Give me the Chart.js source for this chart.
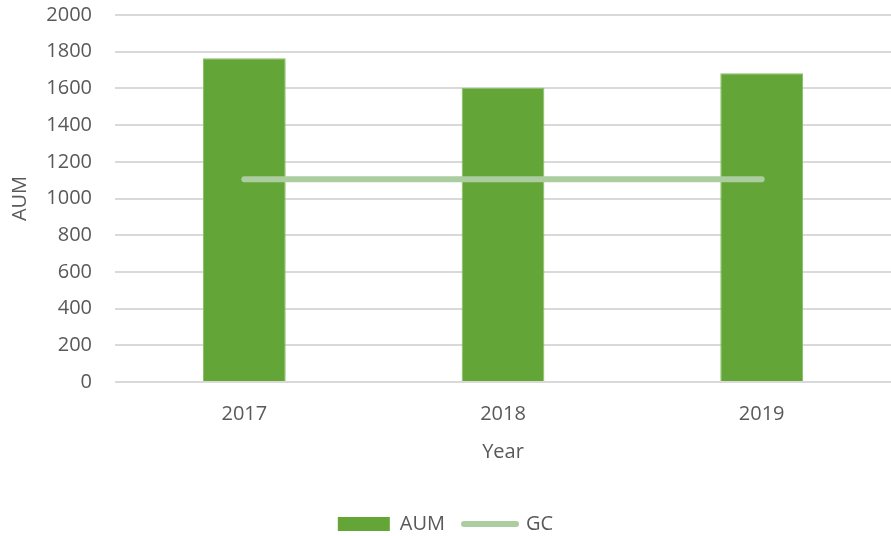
<!DOCTYPE html>
<html>
<head>
<meta charset="utf-8">
<script src="https://cdn.jsdelivr.net/npm/chart.js@4"></script>
<style>
  html, body { margin: 0; padding: 0; background: #fff; }
  #wrap { width: 891px; height: 536px; }
</style>
</head>
<body>
<div id="wrap"><canvas id="chart" width="891" height="536"></canvas></div>
<script>
const years = ['2017', '2018', '2019']
const aum = [1764, 1603, 1682]
const gc = [1105, 1105, 1105]
const yTicks = [0, 2000, 200]   // min, max, step

const textColor = '#595959'
const font = {family: "'Open Sans', sans-serif", size: 20}

const ctx = document.getElementById('chart').getContext('2d')
window.aumChart = new Chart(ctx, {
    type: 'bar',
    data: {
        labels: years,
        datasets: [{
            type: 'bar',
            label: 'AUM',
            data: aum,
            backgroundColor: '#63a537',
            borderColor: '#86c064',
            borderWidth: 1,
            categoryPercentage: 1,
            barPercentage: 0.32,
            order: 1,
        }, {
            type: 'line',
            label: 'GC',
            data: gc,
            borderColor: '#abcd9f',
            backgroundColor: '#abcd9f',
            borderWidth: 6,
            borderCapStyle: 'round',
            pointRadius: 0,
            fill: false,
            order: 0,
        }]
    },
    options: {
        responsive: false,
        animation: false,
        // negative bottom pad pushes the legend down to where excel puts it
        layout: {padding: {top: 15, right: 0, left: 0, bottom: -8}},
        plugins: {
            tooltip: {enabled: false},
            legend: {
                position: 'bottom',
                labels: {
                    color: textColor,
                    font: font,
                    usePointStyle: true,
                    pointStyleWidth: 52,
                    boxHeight: 14,
                    padding: 19,
                    sort: (a, b) => a.datasetIndex - b.datasetIndex,
                    generateLabels: (chart) => chart.data.datasets.map((ds, i) => ({
                        text: ds.label,
                        datasetIndex: i,
                        fontColor: textColor,
                        fillStyle: ds.type === 'bar' ? ds.backgroundColor : 'rgba(0,0,0,0)',
                        strokeStyle: ds.type === 'bar' ? ds.backgroundColor : ds.borderColor,
                        lineWidth: ds.type === 'bar' ? 0 : 6,
                        lineCap: 'round',
                        pointStyle: ds.type === 'bar' ? 'rect' : 'line',
                        hidden: false,
                    }))
                }
            }
        },
        scales: {
            x: {
                grid: {display: false, drawTicks: false},
                border: {display: false},
                ticks: {color: textColor, font: font, padding: 20},
                title: {display: true, text: 'Year', color: textColor, font: font, padding: {top: 0, bottom: 31}},
                afterFit: (s) => { s.height = 113 },
            },
            y: {
                min: yTicks[0],
                max: yTicks[1],
                grid: {color: '#d9d9d9', lineWidth: 2, drawTicks: false},
                border: {display: false},
                ticks: {stepSize: yTicks[2], color: textColor, font: font, padding: 23, callback: (v) => String(v)},
                title: {display: true, text: 'AUM', color: textColor, font: font, padding: {top: 8, bottom: 0}},
                afterFit: (s) => { s.width = 115; s.paddingTop = 0; s.paddingBottom = 0 },
            }
        }
    }
})
</script>
</body>
</html>
